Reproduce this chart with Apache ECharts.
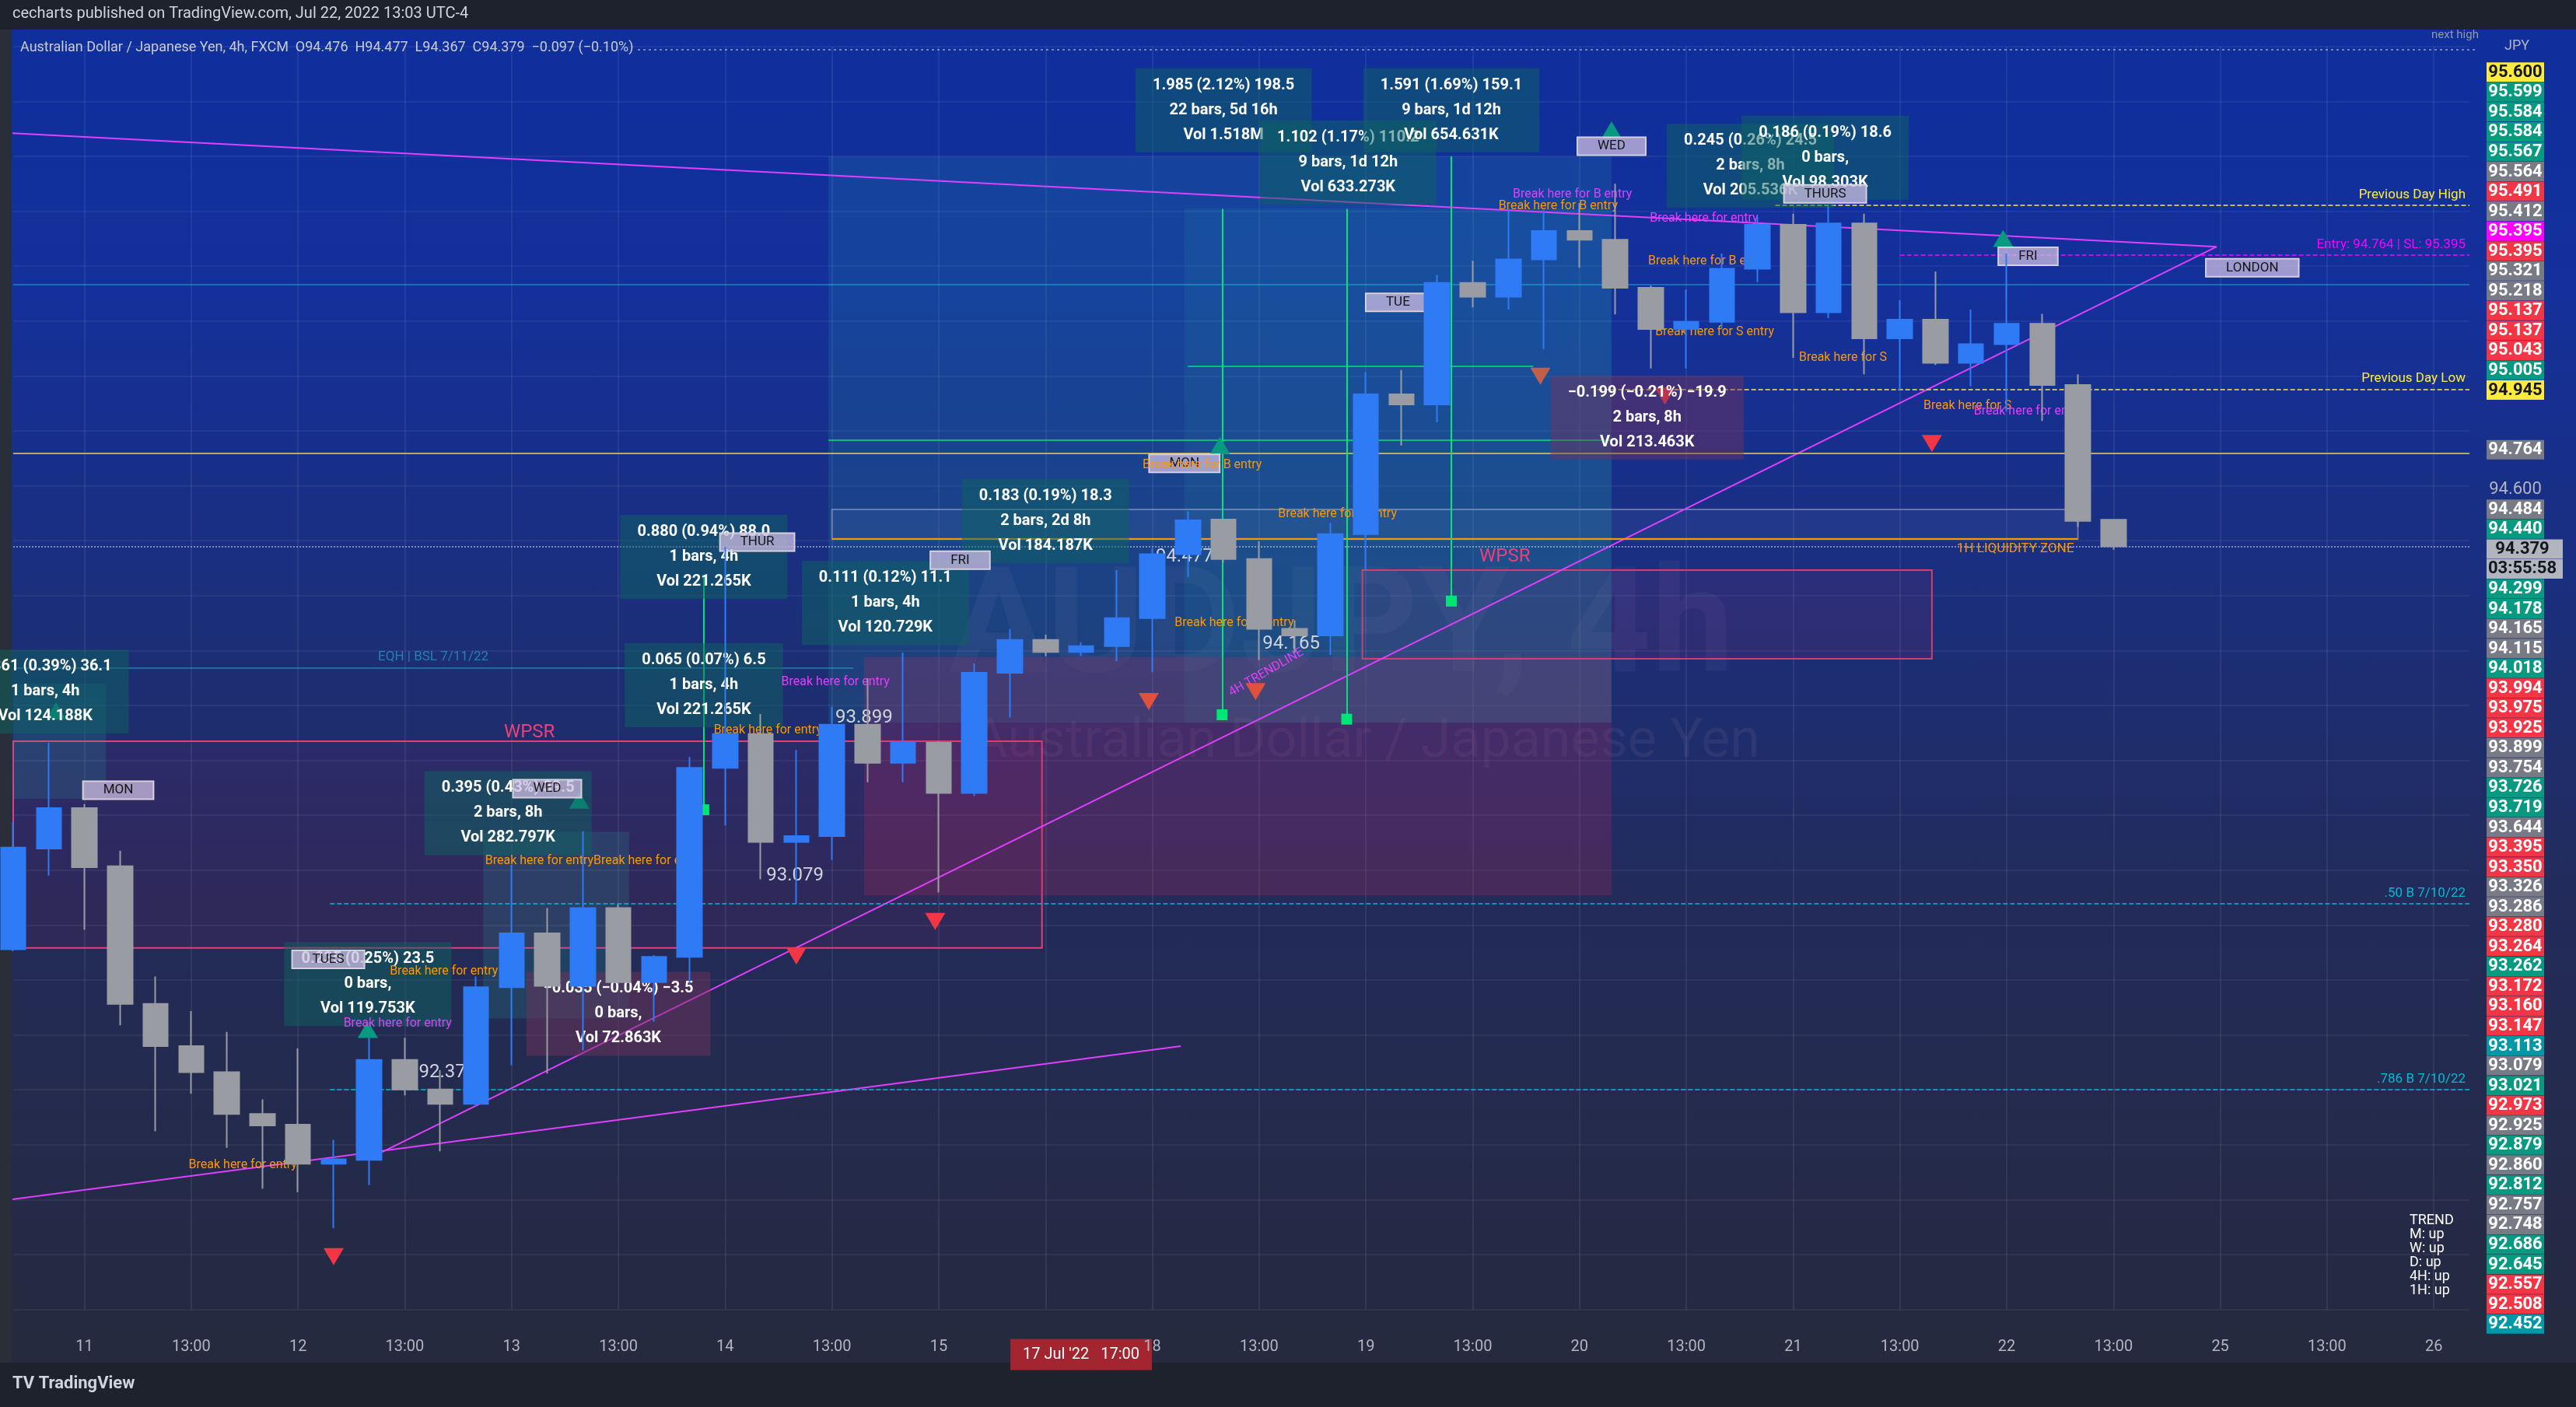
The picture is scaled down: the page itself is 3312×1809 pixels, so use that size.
<!DOCTYPE html>
<html><head><meta charset="utf-8">
<script src="https://cdn.jsdelivr.net/npm/echarts@6/dist/echarts.min.js"></script>
<style>
html,body{margin:0;padding:0;background:#1e222d;width:3312px;height:1809px;overflow:hidden}
#panel{position:absolute;left:15px;top:38px;width:3297px;height:1714px;background:linear-gradient(180deg,#0f2f9c 0%,#14309a 20%,#1a2f80 40%,#222b5a 65%,#252a3e 100%)}
#edge{position:absolute;left:0;top:38px;width:15px;height:1714px;background:#2a2e39}
#chart{position:absolute;left:0;top:0;width:3312px;height:1809px}
</style></head><body>
<div id="edge"></div><div id="panel"></div><div id="chart"></div>
<script>
// ---- candle data (AUD/JPY 4h) ----
const opens  = [92.912,93.279,93.426,93.214,92.713,92.559,92.464,92.312,92.273,92.131,92.145,92.509,92.401,92.349,92.774,92.970,92.779,93.062,92.792,92.884,93.573,93.696,93.303,93.324,93.730,93.591,93.664,93.481,93.919,94.039,93.995,94.016,94.118,94.351,94.477,94.333,94.079,94.055,94.424,94.933,94.896,95.339,95.289,95.425,95.528,95.496,95.321,95.171,95.197,95.391,95.551,95.232,95.556,95.137,95.205,95.048,95.116,95.190,94.967,94.476];
const closes = [93.282,93.426,93.211,92.713,92.559,92.464,92.312,92.270,92.131,92.147,92.509,92.401,92.349,92.774,92.970,92.779,93.062,92.792,92.884,93.573,93.696,93.303,93.324,93.730,93.591,93.664,93.481,93.919,94.039,93.995,94.016,94.118,94.351,94.474,94.333,94.079,94.055,94.424,94.933,94.896,95.339,95.289,95.425,95.528,95.496,95.321,95.171,95.197,95.391,95.551,95.232,95.556,95.137,95.205,95.048,95.116,95.190,94.967,94.472,94.379];
const highs  = [93.376,93.664,93.440,93.271,92.813,92.687,92.611,92.365,92.551,92.218,92.590,92.590,92.472,92.813,93.219,93.062,93.342,93.075,92.890,93.612,94.377,93.769,93.638,93.796,93.899,93.992,93.670,93.953,94.079,94.058,94.030,94.293,94.372,94.508,94.480,94.398,94.110,94.464,95.014,95.022,95.368,95.420,95.604,95.604,95.630,95.700,95.329,95.315,95.446,95.583,95.591,95.617,95.591,95.276,95.381,95.242,95.446,95.226,95.006,94.477];
const lows   = [92.905,93.180,92.983,92.635,92.249,92.386,92.189,92.040,92.027,91.896,92.053,92.380,92.176,92.340,92.490,92.459,92.543,92.787,92.648,92.787,93.363,93.167,93.079,93.237,93.520,93.520,93.119,93.470,93.756,93.979,93.980,93.961,93.921,94.267,94.320,93.966,93.992,93.984,94.293,94.747,94.831,95.250,95.242,95.098,95.394,95.224,95.027,95.027,95.170,95.342,95.066,95.211,95.006,94.949,95.040,94.962,94.870,94.836,94.451,94.367];
// price tags in the right column (top to bottom), '' = empty slot
const tagLabels = ['95.600','95.599','95.584','95.584','95.567','95.564','95.491','95.412','95.395','95.395','95.321','95.218','95.137','95.137','95.043','95.005','94.945','','','94.764','','94.600','94.484','94.440','94.379','03:55:58','94.299','94.178','94.165','94.115','94.018','93.994','93.975','93.925','93.899','93.754','93.726','93.719','93.644','93.395','93.350','93.326','93.286','93.280','93.264','93.262','93.172','93.160','93.147','93.113','93.079','93.021','92.973','92.925','92.879','92.860','92.812','92.757','92.748','92.686','92.645','92.557','92.508','92.452'];
const tagKinds  = ['y','g','g','g','g','gr','r','gr','m','r','gr','gr','r','r','r','g','y','n','n','gr','n','p','gr','g','lg','lg','g','g','gr','gr','g','r','r','r','gr','gr','g','g','gr','r','r','gr','gr','r','r','g','r','r','r','t','gr','g','r','gr','g','gr','g','gr','gr','g','g','r','r','t'];
const trendText = ['TREND','M: up','W: up','D: up','4H: up','1H: up'];

// categories: 4h bars, FX week (closed Fri 17:00 -> Sun 17:00)
const cats = [], tickLabels = [];
(function(){
  let t = Date.UTC(2022,6,10,17);
  while (cats.length < 70) {
    const d = new Date(t), wd = d.getUTCDay(), h = d.getUTCHours();
    const closed = (wd===5 && h>=17) || wd===6 || (wd===0 && h<17);
    if (!closed) {
      cats.push(d.toISOString().slice(0,16));
      let lab = '';
      if (h===1) lab = String(d.getUTCDate());
      else if (h===13) lab = '13:00';
      if (d.getUTCDate()===17 && h===17) lab = 'HL';
      tickLabels.push(lab);
    }
    t += 4*3600*1000;
  }
})();

const chart = echarts.init(document.getElementById('chart'), null, {renderer:'canvas'});
const FONT = 'Roboto, "Noto Sans", sans-serif';
const tagColors = {y:['#ffeb3b','#131722'],g:['#089981','#fff'],gr:['#787b86','#fff'],r:['#f23645','#fff'],m:['#ff00ff','#fff'],lg:['#b2b5be','#131722'],t:['#0097a7','#fff']};
const rich = {p:{color:'#b2b5be',fontSize:22,width:74,align:'center',fontFamily:FONT}, n:{color:'transparent'}};
for (const k in tagColors) rich[k] = {backgroundColor:tagColors[k][0],color:tagColors[k][1],fontSize:22,fontWeight:'bold',width:74,align:'center',padding:[2,0,1,0],fontFamily:FONT,lineHeight:24};
rich.lg.width = 92; rich.lg.padding=[2,6,1,0];

const candleData = opens.map((o,i)=>[o,closes[i],lows[i],highs[i]]);

function measure(x,y,txt,bg){return {coord:[x,y],value:0,label:{formatter:txt,backgroundColor:bg||'rgba(14,100,95,0.5)',color:'#fff',fontSize:20,fontWeight:'bold',lineHeight:32,padding:[6,22],align:'center',fontFamily:FONT}};}
function dayTag(x,y,txt){return {coord:[x,y],value:0,label:{formatter:txt,backgroundColor:'rgba(205,190,225,0.75)',borderColor:'#ddd',borderWidth:1,color:'#151515',fontSize:17,padding:[3,26],fontFamily:FONT}};}
function txt(x,y,t,c,fs,extra){return {coord:[x,y],value:0,label:Object.assign({formatter:t,color:c,fontSize:fs||16,fontFamily:FONT},extra||{})};}
function hl(y,x0,x1,color,type,w,label,lpos){return [{coord:[x0,y],lineStyle:{color,type:type||'solid',width:w||2},label:label?{show:true,formatter:label,color,position:lpos||'insideEndTop',fontSize:17,fontFamily:FONT}:{show:false}},{coord:[x1,y]}];}
function vl(x,y0,y1,color){return [{coord:[x,y0],lineStyle:{color,width:2,type:'solid'},symbol:['none','arrow'],symbolSize:14,label:{show:false}},{coord:[x,y1]}];}
function box(x0,y0,x1,y1,fill,border){return [{coord:[x0,y0],itemStyle:{color:fill,borderColor:border||'transparent',borderWidth:border?2:0}},{coord:[x1,y1]}];}

const option = {
  animation:false,
  backgroundColor:'transparent',
  grid:[{left:17,right:137,top:59.8,bottom:125.4},{left:3196,width:1,top:80,height:1635}],
  xAxis:[
    {type:'category',data:cats,boundaryGap:false,gridIndex:0,
     axisLine:{show:false},axisTick:{show:false},
     axisLabel:{interval:0,margin:38,color:'#b2b5be',fontSize:20,fontFamily:FONT,
       formatter:(v,i)=>tickLabels[i]==='HL'?'{hl|17 Jul \'22   17:00}':tickLabels[i],
       rich:{hl:{backgroundColor:'#a3252f',color:'#fff',fontSize:20,padding:[10,16],fontFamily:FONT}}},
     splitLine:{show:true,interval:(i)=>tickLabels[i]!=='' && tickLabels[i]!=='HL',lineStyle:{color:'rgba(255,255,255,0.07)',width:2}}},
    {type:'value',min:0,max:69,gridIndex:0,show:false},
    {type:'value',gridIndex:1,show:false}
  ],
  yAxis:[
    {type:'value',min:91.6,max:96.2,interval:0.2,gridIndex:0,axisLabel:{show:false},axisLine:{show:false},axisTick:{show:false},
     splitLine:{lineStyle:{color:'rgba(255,255,255,0.055)',width:2}}},
    {type:'category',gridIndex:1,inverse:true,data:tagLabels,position:'right',axisLine:{show:false},axisTick:{show:false},
     axisLabel:{interval:0,margin:0,align:'left',formatter:(v,i)=>'{'+tagKinds[i]+'|'+(v||' ')+'}',rich}}
  ],
  graphic:[
    {type:'text',left:16,top:8,style:{text:'cecharts published on TradingView.com, Jul 22, 2022 13:03 UTC-4',fill:'#d1d4dc',font:'20px '+FONT}},
    {type:'text',left:26,top:52,style:{text:'Australian Dollar / Japanese Yen, 4h, FXCM  O94.476  H94.477  L94.367  C94.379  −0.097 (−0.10%)',fill:'#c8cbd6',font:'18px '+FONT}},
    {type:'text',left:3220,top:50,style:{text:'JPY',fill:'#b2b5be',font:'18px '+FONT}},
    {type:'text',left:3126,top:38,style:{text:'next high',fill:'#9598a1',font:'15px '+FONT}},
    {type:'line',shape:{x1:820,y1:64,x2:3185,y2:64},style:{stroke:'rgba(220,220,220,0.5)',lineWidth:2,lineDash:[3,4]}},
    {type:'text',left:1220,top:720,style:{text:'AUDJPY, 4h',fill:'rgba(130,120,170,0.11)',font:'bold 190px '+FONT}},
    {type:'text',left:1250,top:920,style:{text:'Australian Dollar / Japanese Yen',fill:'rgba(140,120,160,0.13)',font:'70px '+FONT}},
    {type:'text',left:3098,top:1560,style:{text:trendText.join('\n'),fill:'#ffffff',font:'18px '+FONT,lineHeight:18}},
    {type:'text',left:16,top:1768,style:{text:'TV TradingView',fill:'#d1d4dc',font:'bold 22px '+FONT}}
  ],
  series:[
    {type:'line',xAxisIndex:1,yAxisIndex:0,data:[],z:1,
     markArea:{silent:true,data:[
       box(22.9,95.80,44.9,93.737,'rgba(38,166,170,0.16)'),
       box(32.9,95.61,44.9,93.737,'rgba(38,166,170,0.12)'),
       box(0,93.67,28.9,92.917,'rgba(233,30,99,0.07)','#e0407a'),
       box(23.9,93.976,44.9,93.108,'rgba(200,40,90,0.22)'),
       box(37.9,94.293,53.9,93.97,'rgba(200,40,90,0.10)','#d0406a'),
       box(23,94.514,58,94.407,'rgba(120,140,200,0.10)','rgba(180,180,200,0.5)'),
       box(0,93.88,2.6,93.46,'rgba(38,166,154,0.18)'),
       box(13.2,93.34,17.3,92.66,'rgba(38,166,154,0.18)')
     ]}},
    {type:'line',xAxisIndex:1,yAxisIndex:0,data:[],z:2,
     markLine:{silent:true,symbol:'none',data:[
       hl(94.718,0,69,'rgba(214,190,90,0.85)','solid',2),
       hl(95.334,0,69,'rgba(38,198,218,0.55)','solid',1.5),
       hl(93.938,0,23.6,'rgba(38,198,218,0.55)','solid',1.5,'EQH | BSL 7/11/22','insideMiddleTop'),
       hl(94.766,22.9,44.9,'#00e676','solid',1.5),
       hl(95.035,33,42.7,'#00e676','solid',1.5),
       hl(95.621,49.5,69,'#ffeb3b','dashed',1.5,'Previous Day High'),
       hl(94.951,44.5,69,'#ffeb3b','dashed',1.5,'Previous Day Low'),
       hl(95.440,53,69,'#ff00ff','dashed',1.5,'Entry: 94.764 | SL: 95.395'),
       hl(93.077,8.9,69,'#00bcd4','dashed',1.5,'.50 B 7/10/22'),
       hl(92.401,8.9,69,'#00bcd4','dashed',1.5,'.786 B 7/10/22'),
       hl(94.379,0,69,'rgba(200,200,210,0.6)','dotted',2),
       hl(94.407,23,58,'#ff9800','solid',2,'1H LIQUIDITY ZONE','insideEndBottom'),
       vl(33.96,93.766,95.609,'#00e676'),
       vl(37.46,93.75,95.609,'#00e676'),
       vl(40.4,94.18,95.80,'#00e676'),
       vl(19.4,93.42,94.27,'#00e676')
     ]}},
    {type:'line',xAxisIndex:1,yAxisIndex:0,data:[[-0.4,95.887],[61.9,95.471]],symbol:'none',lineStyle:{color:'#e040fb',width:2},z:3},
    {type:'line',xAxisIndex:1,yAxisIndex:0,data:[[10.2,92.163],[61.9,95.471]],symbol:'none',lineStyle:{color:'#e040fb',width:2},z:3},
    {type:'line',xAxisIndex:1,yAxisIndex:0,data:[[-0.4,91.995],[32.8,92.559]],symbol:'none',lineStyle:{color:'#e040fb',width:2},z:3},
    {type:'candlestick',xAxisIndex:0,yAxisIndex:0,data:candleData,barWidth:32,z:5,
     itemStyle:{color:'#2f7bf5',color0:'#9a9ca4',borderColor:'#2f7bf5',borderColor0:'#9a9ca4',borderWidth:2}},
    {type:'line',xAxisIndex:1,yAxisIndex:0,data:[],z:8,
     markPoint:{silent:true,symbol:'rect',symbolSize:1,itemStyle:{color:'transparent'},label:{show:true,position:'inside'},data:[
       measure(34,95.968,'1.985 (2.12%) 198.5\n22 bars, 5d 16h\nVol 1.518M'),
       measure(37.5,95.777,'1.102 (1.17%) 110.2\n9 bars, 1d 12h\nVol 633.273K'),
       measure(40.4,95.968,'1.591 (1.69%) 159.1\n9 bars, 1d 12h\nVol 654.631K'),
       measure(48.8,95.765,'0.245 (0.26%) 24.5\n2 bars, 8h\nVol 205.536K'),
       measure(50.9,95.795,'0.186 (0.19%) 18.6\n0 bars,\nVol 98.303K'),
       measure(45.9,94.849,'−0.199 (−0.21%) −19.9\n2 bars, 8h\nVol 213.463K','rgba(120,50,90,0.45)'),
       measure(29,94.472,'0.183 (0.19%) 18.3\n2 bars, 2d 8h\nVol 184.187K'),
       measure(24.5,94.173,'0.111 (0.12%) 11.1\n1 bars, 4h\nVol 120.729K'),
       measure(19.4,94.341,'0.880 (0.94%) 88.0\n1 bars, 4h\nVol 221.265K'),
       measure(19.4,93.874,'0.065 (0.07%) 6.5\n1 bars, 4h\nVol 221.265K'),
       measure(13.9,93.408,'0.395 (0.43%) 39.5\n2 bars, 8h\nVol 282.797K'),
       measure(9.96,92.785,'0.235 (0.25%) 23.5\n0 bars,\nVol 119.753K'),
       measure(17,92.677,'−0.035 (−0.04%) −3.5\n0 bars,\nVol 72.863K','rgba(120,50,90,0.45)'),
       measure(0.9,93.85,'0.361 (0.39%) 36.1\n1 bars, 4h\nVol 124.188K'),
       dayTag(2.95,93.491,'MON'),dayTag(8.85,92.875,'TUES'),dayTag(15,93.497,'WED'),dayTag(20.9,94.395,'THUR'),
       dayTag(26.6,94.329,'FRI'),dayTag(32.9,94.682,'MON'),dayTag(38.9,95.268,'TUE'),dayTag(44.9,95.837,'WED'),
       dayTag(50.9,95.663,'THURS'),dayTag(56.6,95.436,'FRI'),dayTag(62.9,95.394,'LONDON'),
       txt(14.5,93.70,'WPSR','#ec407a',24),txt(41.9,94.341,'WPSR','#ec407a',24),
       txt(35.2,93.92,'4H TRENDLINE','#e040fb',16,{rotate:30}),
       txt(21.96,93.18,'93.079','#d1d4dc',24),txt(35.9,94.024,'94.165','#d1d4dc',24),
       txt(12.2,92.462,'92.374','#d1d4dc',24),txt(23.9,93.754,'93.899','#d1d4dc',24),
       txt(32.9,94.341,'94.477','#d1d4dc',24),
       txt(6.45,92.127,'Break here for entry','#ff9800'),
       txt(12.1,92.83,'Break here for entry','#ff9800'),
       txt(10.8,92.64,'Break here for entry','#e040fb'),
       txt(16.3,93.234,'Break here for entryBreak here for entry','#ff9800'),
       txt(23.1,93.886,'Break here for entry','#e040fb'),
       txt(21.2,93.71,'Break here for entry','#ff9800'),
       txt(33.4,94.676,'Break here for B entry','#ff9800'),
       txt(37.2,94.496,'Break here for S entry','#ff9800'),
       txt(34.3,94.10,'Break here for B entry','#ff9800'),
       txt(43.8,95.66,'Break here for B entry','#e040fb'),
       txt(43.4,95.62,'Break here for B entry','#ff9800'),
       txt(47.6,95.418,'Break here for B entry','#ff9800'),
       txt(47.8,95.16,'Break here for S entry','#ff9800'),
       txt(47.5,95.573,'Break here for entry','#e040fb'),
       txt(51.4,95.065,'Break here for S','#ff9800'),
       txt(54.9,94.891,'Break here for S','#ff9800'),
       txt(56.6,94.87,'Break here for entry','#e040fb')
     ]}},
    {type:'line',xAxisIndex:1,yAxisIndex:0,data:[],z:9,
     markPoint:{silent:true,symbol:'triangle',symbolSize:[26,22],label:{show:false},data:[
       {coord:[9,91.792],symbolRotate:180,itemStyle:{color:'#f23645'}},
       {coord:[22,92.887],symbolRotate:180,itemStyle:{color:'#f23645'}},
       {coord:[25.9,93.013],symbolRotate:180,itemStyle:{color:'#f23645'}},
       {coord:[31.9,93.814],symbolRotate:180,itemStyle:{color:'#e0503a'}},
       {coord:[34.9,93.85],symbolRotate:180,itemStyle:{color:'#e0503a'}},
       {coord:[42.9,94.999],symbolRotate:180,itemStyle:{color:'#c0604a'}},
       {coord:[46.4,94.927],symbolRotate:180,itemStyle:{color:'#f23645'}},
       {coord:[53.9,94.754],symbolRotate:180,itemStyle:{color:'#f23645'}},
       {coord:[15.9,93.455],itemStyle:{color:'#089981'}},
       {coord:[44.9,95.896],itemStyle:{color:'#089981'}},
       {coord:[55.9,95.501],itemStyle:{color:'#089981'}},
       {coord:[33.9,94.747],itemStyle:{color:'#089981'}},
       {coord:[9.96,92.62],itemStyle:{color:'#089981'}},
       {coord:[1.2,93.78],itemStyle:{color:'#089981'}}
     ]}},
    {type:'scatter',xAxisIndex:2,yAxisIndex:1,data:[]}
  ]
};
chart.setOption(option);
</script></body></html>
